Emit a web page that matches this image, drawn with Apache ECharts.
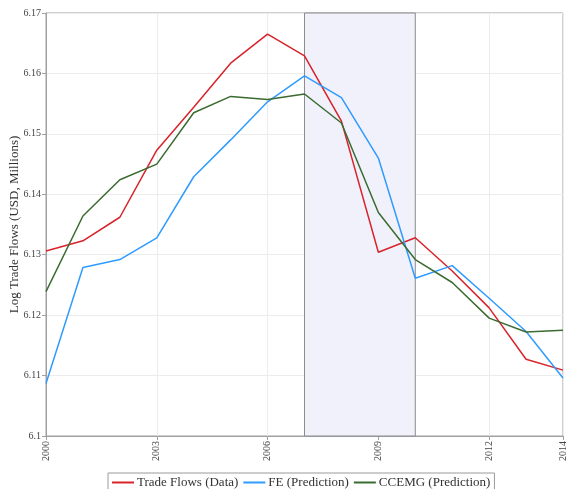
<!DOCTYPE html>
<html>
<head>
<meta charset="utf-8">
<script src="https://cdn.jsdelivr.net/npm/echarts@6/dist/echarts.min.js"></script>
<style>
  html, body { margin: 0; padding: 0; background: #fff; }
  #chart { width: 566px; height: 489px; }
</style>
</head>
<body>
<div id="chart"></div>
<script>
// Years on the horizontal axis
const years = [2000, 2001, 2002, 2003, 2004, 2005, 2006, 2007, 2008, 2009, 2010, 2011, 2012, 2013, 2014];

// Log trade flows (USD, millions)
const tradeFlows = [6.1306, 6.1323, 6.1362, 6.1473, 6.1544, 6.1617, 6.1665, 6.1629, 6.1521, 6.1304, 6.1328, 6.1273, 6.1212, 6.1127, 6.1109];
const fePrediction = [6.1087, 6.1279, 6.1292, 6.1328, 6.1429, 6.1490, 6.1553, 6.1596, 6.1560, 6.1460, 6.1261, 6.1282, 6.1228, 6.1173, 6.1096];
const ccemgPrediction = [6.1239, 6.1364, 6.1424, 6.1450, 6.1535, 6.1562, 6.1557, 6.1566, 6.1518, 6.1370, 6.1292, 6.1254, 6.1195, 6.1172, 6.1175];

// Shaded crisis period
const shadeStart = 2007;
const shadeEnd = 2010;

const seriesNames = ['Trade Flows (Data)', 'FE (Prediction)', 'CCEMG (Prediction)'];
const seriesColors = ['#d8232a', '#2f9bff', '#3b6b31'];

const fontFamily = '"Liberation Serif", "DejaVu Serif", serif';

function pairs(vals) {
  return years.map((y, i) => [y, vals[i]]);
}

const chart = echarts.init(document.getElementById('chart'), null, { renderer: 'canvas' });

const allValues = [tradeFlows, fePrediction, ccemgPrediction];

chart.setOption({
  animation: false,
  backgroundColor: '#ffffff',
  textStyle: { fontFamily: fontFamily },
  grid: {
    left: 46, right: 3, top: 13, bottom: 53,
    outerBoundsMode: 'none',
    containLabel: false,
    show: true,
    borderColor: '#a0a0a0',
    borderWidth: 1
  },
  legend: {
    data: seriesNames,
    top: 473,
    left: 108,
    orient: 'horizontal',
    itemWidth: 22,
    itemHeight: 2,
    itemGap: 5,
    padding: [3, 4, 6, 4],
    borderColor: '#9a9a9a',
    borderWidth: 1,
    icon: 'rect',
    textStyle: { fontFamily: fontFamily, fontSize: 13, color: '#333', padding: [0, 0, 0, -2] }
  },
  xAxis: {
    type: 'value',
    min: 2000,
    max: 2014,
    interval: 3,
    axisLine: { show: true, lineStyle: { color: '#a0a0a0' } },
    axisTick: { show: true, length: 4, lineStyle: { color: '#a0a0a0' } },
    axisLabel: {
      rotate: 90,
      fontSize: 10,
      color: '#444',
      fontFamily: fontFamily,
      margin: 5,
      formatter: v => String(v)
    },
    splitLine: { show: true, lineStyle: { color: '#ececec', width: 1 } }
  },
  yAxis: {
    type: 'value',
    min: 6.1,
    max: 6.17,
    interval: 0.01,
    name: 'Log Trade Flows (USD, Millions)',
    nameLocation: 'middle',
    nameGap: 25,
    nameMoveOverlap: false,
    nameTextStyle: { fontFamily: fontFamily, fontSize: 13, color: '#333' },
    axisLine: { show: true, lineStyle: { color: '#a0a0a0' } },
    axisTick: { show: true, length: 4, lineStyle: { color: '#a0a0a0' } },
    axisLabel: {
      fontSize: 10,
      color: '#444',
      fontFamily: fontFamily,
      margin: 5,
      formatter: v => String(Math.round(v * 100) / 100)
    },
    splitLine: { show: true, lineStyle: { color: '#ececec', width: 1 } }
  },
  series: seriesNames.map((name, i) => {
    const s = {
      name: name,
      type: 'line',
      data: pairs(allValues[i]),
      symbol: 'none',
      lineStyle: { width: 1.5, color: seriesColors[i] },
      itemStyle: { color: seriesColors[i] },
      z: 3 + i
    };
    if (i === 0) {
      s.markArea = {
        silent: true,
        itemStyle: { color: '#f1f1fc', borderColor: '#8c8c8c', borderWidth: 1 },
        data: [[{ xAxis: shadeStart }, { xAxis: shadeEnd }]]
      };
    }
    return s;
  })
});
</script>
</body>
</html>
